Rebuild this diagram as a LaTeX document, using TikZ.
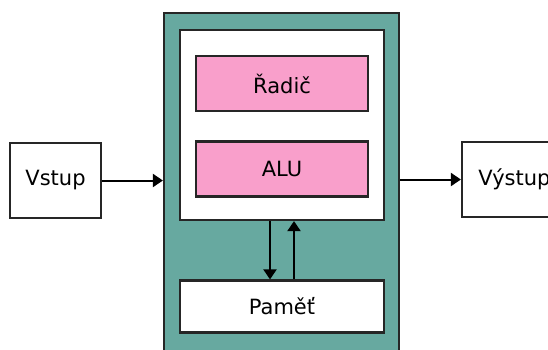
\documentclass[tikz,border=0pt]{standalone}
\usepackage{fontspec}
\setmainfont{DejaVu Sans}
\usetikzlibrary{arrows.meta}
\definecolor{cputeal}{HTML}{67A9A0}
\definecolor{unitpink}{HTML}{F99FCB}
\tikzset{
  block/.style={draw=black!85, line width=2.2pt, inner sep=0pt, font=\fontsize{21}{25}\selectfont},
  flow/.style={draw=black, line width=2pt, -{Triangle[length=10pt,width=13pt]}},
}
\begin{document}
\begin{tikzpicture}[x=1pt,y=-1pt]
\useasboundingbox (0,0) rectangle (548,349);
\clip (0,0) rectangle (548,349);
% processor enclosure
\node[block, fill=cputeal, minimum width=235pt, minimum height=360pt] (cpu) at (281.5,193) {};
% control unit and ALU
\node[block, fill=white, minimum width=204pt, minimum height=190pt] (core) at (282,125) {};
\node[block, fill=unitpink, minimum width=172pt, minimum height=55pt] (radic) at (282,83.5) {Řadič};
\node[block, fill=unitpink, minimum width=172pt, minimum height=55pt] (alu) at (282,169) {ALU};
% memory
\node[block, fill=white, minimum width=204pt, minimum height=52pt] (mem) at (282,306.5) {Paměť};
% input and output
\node[block, fill=white, minimum width=91pt, minimum height=75pt] (in) at (55.5,180.5) {Vstup};
\node[block, fill=white, minimum width=105pt, minimum height=75pt] (out) at (514.5,179.5) {Výstup};
% connectors
\draw[flow] (in.east) -- (in.east -| cpu.west);
\draw[flow] (cpu.east |- out.west) -- (out.west);
\draw[flow] ([xshift=-12pt]core.south) -- ([xshift=-12pt]mem.north);
\draw[flow] ([xshift=12pt]mem.north) -- ([xshift=12pt]core.south);
\end{tikzpicture}
\end{document}
